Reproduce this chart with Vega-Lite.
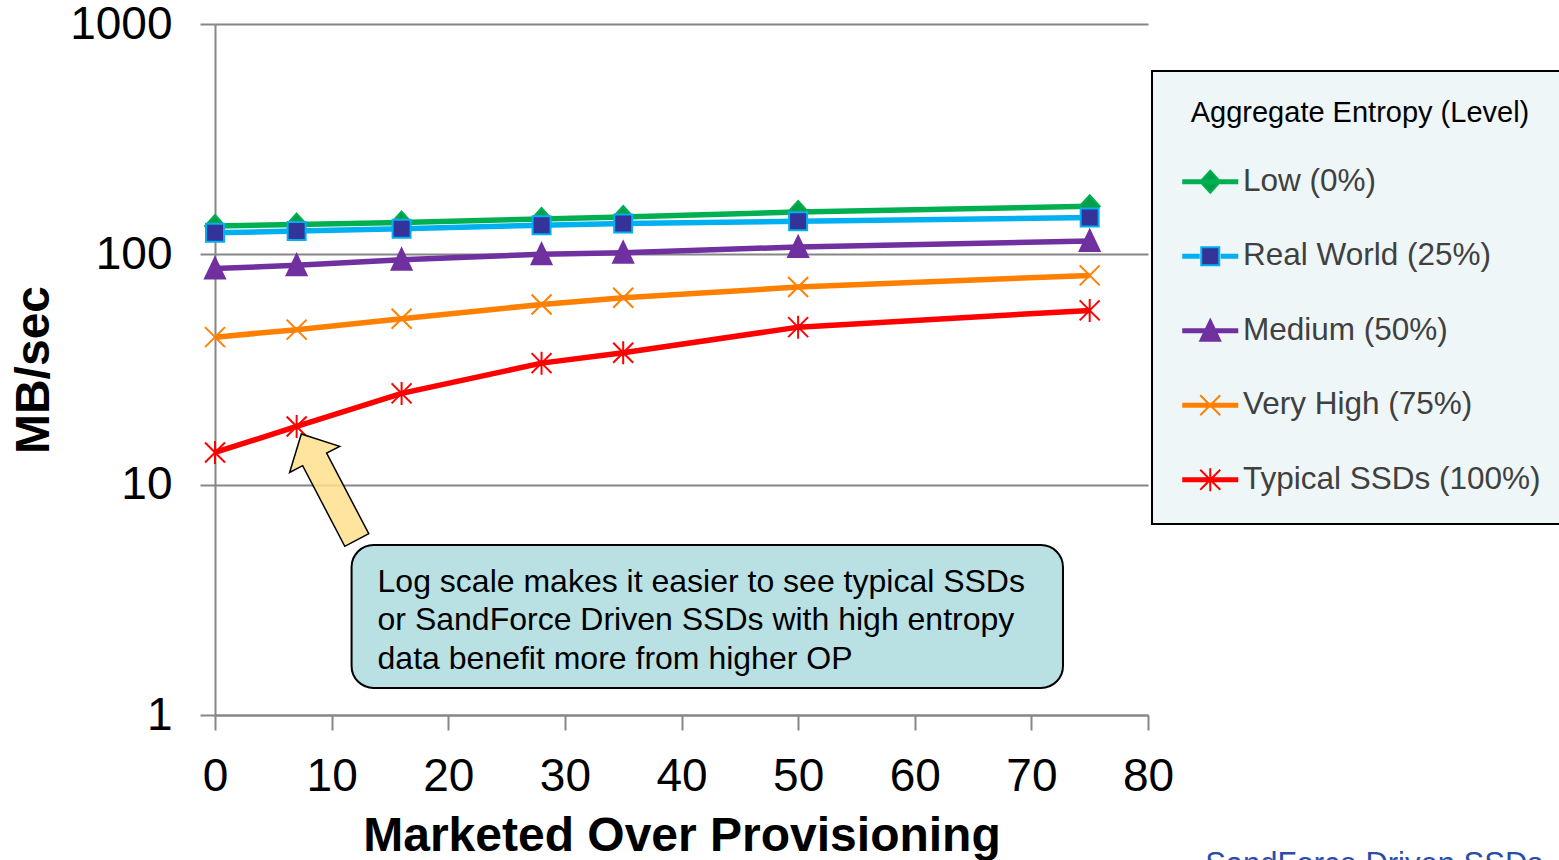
{
  "$schema": "https://vega.github.io/schema/vega-lite/v6.json",
  "width": 933,
  "height": 691,
  "autosize": {"type": "none"},
  "padding": {"left": 215, "top": 24, "right": 411, "bottom": 145},
  "background": "white",
  "config": {
    "view": {"stroke": null},
    "font": "Liberation Sans",
    "axis": {"labelFont": "Liberation Sans", "titleFont": "Liberation Sans"},
    "legend": {
      "orient": "none",
      "legendX": 937,
      "legendY": 47,
      "fillColor": "#EEF6F8",
      "strokeColor": "#000000",
      "padding": 28,
      "titleFont": "Liberation Sans",
      "titleFontSize": 29,
      "titleFontWeight": "normal",
      "titleColor": "#000000",
      "titleAnchor": "middle",
      "titleLimit": 1000,
      "titlePadding": 38,
      "labelFont": "Liberation Sans",
      "labelFontSize": 31.5,
      "labelColor": "#404040",
      "labelLimit": 1000,
      "labelOffset": 17,
      "symbolSize": 400,
      "symbolStrokeWidth": 2,
      "symbolOffset": 14.5,
      "rowPadding": 41.5
    }
  },
  "datasets": {
    "perf": [
      {"series": "Low (0%)", "op": 0, "mbps": 132.8},
      {"series": "Low (0%)", "op": 7, "mbps": 134.6},
      {"series": "Low (0%)", "op": 16, "mbps": 137.4},
      {"series": "Low (0%)", "op": 28, "mbps": 142.4},
      {"series": "Low (0%)", "op": 35, "mbps": 145.3},
      {"series": "Low (0%)", "op": 50, "mbps": 152.7},
      {"series": "Low (0%)", "op": 75, "mbps": 161.7},
      {"series": "Real World (25%)", "op": 0, "mbps": 124.0},
      {"series": "Real World (25%)", "op": 7, "mbps": 126.3},
      {"series": "Real World (25%)", "op": 16, "mbps": 129.3},
      {"series": "Real World (25%)", "op": 28, "mbps": 133.7},
      {"series": "Real World (25%)", "op": 35, "mbps": 136.0},
      {"series": "Real World (25%)", "op": 50, "mbps": 139.2},
      {"series": "Real World (25%)", "op": 75, "mbps": 144.4},
      {"series": "Medium (50%)", "op": 0, "mbps": 86.7},
      {"series": "Medium (50%)", "op": 7, "mbps": 89.6},
      {"series": "Medium (50%)", "op": 16, "mbps": 94.8},
      {"series": "Medium (50%)", "op": 28, "mbps": 100.0},
      {"series": "Medium (50%)", "op": 35, "mbps": 101.7},
      {"series": "Medium (50%)", "op": 50, "mbps": 107.6},
      {"series": "Medium (50%)", "op": 75, "mbps": 114.2},
      {"series": "Very High (75%)", "op": 0, "mbps": 43.7},
      {"series": "Very High (75%)", "op": 7, "mbps": 47.1},
      {"series": "Very High (75%)", "op": 16, "mbps": 52.5},
      {"series": "Very High (75%)", "op": 28, "mbps": 60.6},
      {"series": "Very High (75%)", "op": 35, "mbps": 64.8},
      {"series": "Very High (75%)", "op": 50, "mbps": 72.1},
      {"series": "Very High (75%)", "op": 75, "mbps": 81.0},
      {"series": "Typical SSDs (100%)", "op": 0, "mbps": 13.8},
      {"series": "Typical SSDs (100%)", "op": 7, "mbps": 17.9},
      {"series": "Typical SSDs (100%)", "op": 16, "mbps": 24.9},
      {"series": "Typical SSDs (100%)", "op": 28, "mbps": 33.7},
      {"series": "Typical SSDs (100%)", "op": 35, "mbps": 37.4},
      {"series": "Typical SSDs (100%)", "op": 50, "mbps": 48.3},
      {"series": "Typical SSDs (100%)", "op": 75, "mbps": 57.1}
    ]
  },
  "layer": [
    {
      "data": {"values": [{}]},
      "mark": {"type": "rect", "cornerRadius": 22, "fill": "#B9E0E3", "stroke": "#000000", "strokeWidth": 2},
      "encoding": {
        "x": {"datum": 11.71, "type": "quantitative", "scale": {"domain": [0, 80], "nice": false, "zero": false}},
        "x2": {"datum": 72.71},
        "y": {"datum": 5.47, "type": "quantitative", "scale": {"type": "log", "domain": [1, 1000], "nice": false}},
        "y2": {"datum": 1.31}
      }
    },
    {
      "data": {"values": [{}]},
      "mark": {
        "type": "text",
        "text": ["Log scale makes it easier to see typical SSDs", "or SandForce Driven SSDs with high entropy", "data benefit more from higher OP"],
        "align": "left",
        "baseline": "top",
        "lineHeight": 38.5,
        "font": "Liberation Sans",
        "fontSize": 32,
        "color": "#000000"
      },
      "encoding": {
        "x": {"datum": 13.94, "type": "quantitative"},
        "y": {"datum": 4.41, "type": "quantitative"}
      }
    },
    {
      "data": {"name": "perf"},
      "mark": {"type": "line", "strokeWidth": 5.5},
      "encoding": {
        "x": {
          "field": "op", "type": "quantitative",
          "scale": {"domain": [0, 80], "nice": false, "zero": false},
          "axis": {
            "title": "Marketed Over Provisioning",
            "values": [0, 10, 20, 30, 40, 50, 60, 70, 80],
            "grid": false,
            "domainColor": "#868686", "domainWidth": 2,
            "tickColor": "#868686", "tickWidth": 2, "tickSize": 15,
            "labelFontSize": 46, "labelColor": "#000000", "labelPadding": 24,
            "labelFlush": false, "labelOverlap": false,
            "titleFontSize": 48, "titleFontWeight": "bold", "titleColor": "#000000", "titlePadding": 13
          }
        },
        "y": {
          "field": "mbps", "type": "quantitative",
          "scale": {"type": "log", "domain": [1, 1000], "nice": false},
          "axis": {
            "title": "MB/sec",
            "values": [1, 10, 100, 1000],
            "format": "d",
            "grid": true, "gridColor": "#868686", "gridWidth": 2,
            "domainColor": "#868686", "domainWidth": 2,
            "tickColor": "#868686", "tickWidth": 2, "tickSize": 15,
            "labelFontSize": 46, "labelColor": "#000000", "labelPadding": 28,
            "labelFlush": false, "labelOverlap": false,
            "titleFontSize": 48, "titleFontWeight": "bold", "titleColor": "#000000", "titlePadding": 11
          }
        },
        "stroke": {
          "field": "series", "type": "nominal", "sort": null,
          "scale": {"range": ["#00B050", "#00B0F0", "#7030A0", "#FF8000", "#FF0000"]},
          "legend": {
            "title": "Aggregate Entropy (Level)",
            "encoding": {
              "legend": {"strokeWidth": {"value": 2}},
              "symbols": {
                "shape": {"value": {"expr": "scale('shape', datum.value) + (datum.value === 'Real World (25%)' ? 'M-2.8,-0.15H-1.05M1.05,-0.15H2.8M-2.8,0H-1.05M1.05,0H2.8M-2.8,0.15H-1.05M1.05,0.15H2.8' : 'M-2.8,-0.15H2.8M-2.8,0H2.8M-2.8,0.15H2.8')"}},
                "fill": {"value": {"expr": "scale('fill', datum.value)"}},
                "strokeWidth": {"value": 2},
                "opacity": {"value": 1}
              }
            }
          }
        }
      }
    },
    {
      "data": {"name": "perf"},
      "mark": {"type": "point", "size": 400, "strokeWidth": 2, "opacity": 1},
      "encoding": {
        "x": {"field": "op", "type": "quantitative"},
        "y": {"field": "mbps", "type": "quantitative"},
        "stroke": {
          "field": "series", "type": "nominal", "sort": null,
          "legend": {
            "title": "Aggregate Entropy (Level)",
            "encoding": {
              "legend": {"strokeWidth": {"value": 2}},
              "symbols": {
                "shape": {"value": {"expr": "scale('shape', datum.value) + (datum.value === 'Real World (25%)' ? 'M-2.8,-0.15H-1.05M1.05,-0.15H2.8M-2.8,0H-1.05M1.05,0H2.8M-2.8,0.15H-1.05M1.05,0.15H2.8' : 'M-2.8,-0.15H2.8M-2.8,0H2.8M-2.8,0.15H2.8')"}},
                "fill": {"value": {"expr": "scale('fill', datum.value)"}},
                "strokeWidth": {"value": 2},
                "opacity": {"value": 1}
              }
            }
          }
        },
        "fill": {
          "field": "series", "type": "nominal",
          "scale": {
            "domain": ["Low (0%)", "Real World (25%)", "Medium (50%)", "Very High (75%)", "Typical SSDs (100%)"],
            "range": ["#00A04A", "#333399", "#7030A0", "transparent", "transparent"]
          },
          "legend": null
        },
        "shape": {
          "field": "series", "type": "nominal",
          "scale": {
            "domain": ["Low (0%)", "Real World (25%)", "Medium (50%)", "Very High (75%)", "Typical SSDs (100%)"],
            "range": [
              "M0,-1.1L1,0L0,1.1L-1,0Z",
              "M-0.9,-0.9H0.9V0.9H-0.9Z",
              "M0,-1.1L1,1L-1,1Z",
              "M-1,-1L1,1M-1,1L1,-1",
              "M-1,-1L1,1M-1,1L1,-1M0,-1.15L0,1.15"
            ]
          },
          "legend": null
        }
      }
    },
    {
      "data": {"values": [{}]},
      "mark": {
        "type": "point",
        "shape": "M0,-1L0.472,-0.52L0.226,-0.52L0.226,1L-0.226,1L-0.226,-0.52L-0.472,-0.52Z",
        "size": 14328,
        "angle": -27.6,
        "filled": true,
        "fill": "#FFDF8C",
        "fillOpacity": 0.85,
        "stroke": "#000000",
        "strokeWidth": 1.5,
        "opacity": 1
      },
      "encoding": {
        "x": {"datum": 9.78, "type": "quantitative"},
        "y": {"datum": 9.77, "type": "quantitative"}
      }
    },
    {
      "data": {"values": [{}]},
      "mark": {
        "type": "text",
        "text": "SandForce Driven SSDs",
        "align": "left",
        "baseline": "top",
        "font": "Liberation Sans",
        "fontSize": 31,
        "color": "#2A4CA8"
      },
      "encoding": {
        "x": {"datum": 84.9, "type": "quantitative"},
        "y": {"datum": 0.26, "type": "quantitative"}
      }
    }
  ]
}
